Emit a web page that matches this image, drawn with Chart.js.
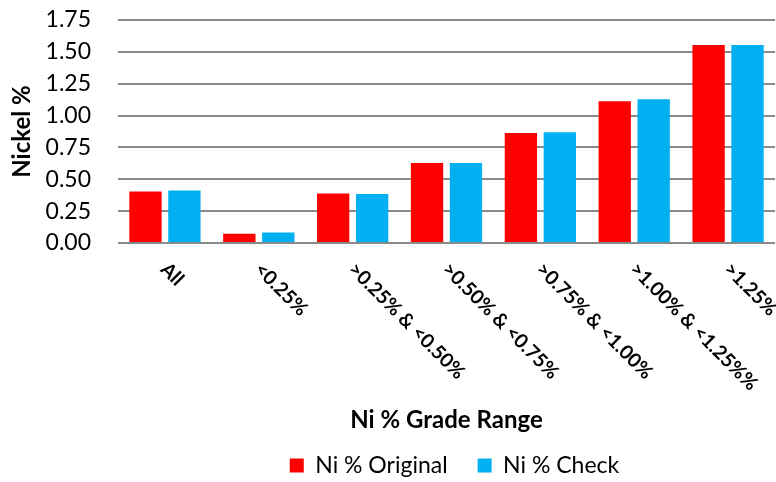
<!DOCTYPE html>
<html>
<head>
<meta charset="utf-8">
<script src="https://cdn.jsdelivr.net/npm/chart.js@4.4.1/dist/chart.umd.min.js"></script>
<style>
  html, body { margin: 0; padding: 0; background: #fff; }
  #wrap { width: 776px; height: 482px; position: relative; }
</style>
</head>
<body>
<div id="wrap"><canvas id="c" width="776" height="482"></canvas></div>
<script>
const categories = ['All', '<0.25%', '>0.25% & <0.50%', '>0.50% & <0.75%', '>0.75% & <1.00%', '>1.00% & <1.25%%', '>1.25%'];
const niOriginal = [0.404, 0.073, 0.389, 0.627, 0.864, 1.113, 1.554];
const niCheck = [0.412, 0.083, 0.384, 0.627, 0.870, 1.128, 1.554];
const yTicks = [0, 0.25, 0.5, 0.75, 1.0, 1.25, 1.5, 1.75];

const FONT = 'Lato, "Open Sans", sans-serif';

const rotatedLabels = {
  id: 'rotatedLabels',
  afterDraw(chart) {
    const x = chart.scales.x;
    const ctx = chart.ctx;
    ctx.save();
    ctx.font = 'bold 19.5px ' + FONT;
    ctx.fillStyle = '#000';
    ctx.textAlign = 'left';
    ctx.textBaseline = 'middle';
    categories.forEach((lab, i) => {
      const px = x.getPixelForValue(i);
      ctx.save();
      ctx.translate(px - 1, x.top + 23);
      ctx.rotate(Math.PI / 4);
      ctx.fillText(lab, 0, 0);
      ctx.restore();
    });
    ctx.restore();
  }
};

const legendShift = {
  id: 'legendShift',
  afterLayout(chart) {
    chart.legend.left += 8;
    chart.legend.right += 8;
  }
};

const chart = new Chart(document.getElementById('c'), {
  type: 'bar',
  data: {
    labels: categories,
    datasets: [
      { label: 'Ni % Original', data: niOriginal, backgroundColor: '#FF0000', barPercentage: 0.83, categoryPercentage: 0.83 },
      { label: 'Ni % Check', data: niCheck, backgroundColor: '#00B0F0', barPercentage: 0.83, categoryPercentage: 0.83 }
    ]
  },
  options: {
    responsive: false,
    animation: false,
    devicePixelRatio: 1,
    layout: { padding: { top: 0, right: 1, left: 0, bottom: 0 } },
    plugins: {
      legend: {
        position: 'bottom',
        fullSize: false,
        maxHeight: 58,
        labels: {
          font: { family: FONT, size: 23 },
          color: '#000',
          boxWidth: 14,
          boxHeight: 14,
          padding: 30
        }
      },
      tooltip: { enabled: false }
    },
    scales: {
      x: {
        grid: { display: false, drawTicks: false },
        border: { display: false },
        ticks: { display: false },
        title: {
          display: true,
          text: 'Ni % Grade Range',
          color: '#000',
          font: { family: FONT, size: 24, weight: 'bold' },
          padding: { top: 0, bottom: -11 }
        },
        afterFit(scale) { scale.height = 181; }
      },
      y: {
        min: 0,
        max: 1.75,
        afterBuildTicks(scale) { scale.ticks = yTicks.map(v => ({ value: v })); },
        grid: { color: '#8a8a8a', lineWidth: 2, drawTicks: true, tickLength: 27, tickColor: 'rgba(0,0,0,0)' },
        border: { display: false },
        ticks: {
          color: '#000',
          font: { family: FONT, size: 23 },
          padding: 0,
          autoSkip: false,
          callback: v => Number(v).toFixed(2)
        },
        title: {
          display: true,
          text: 'Nickel %',
          color: '#000',
          font: { family: FONT, size: 24, weight: 'bold' },
          padding: { top: 8, bottom: 4 }
        },
        afterFit(scale) { scale.width = 118; scale.paddingTop = 20; }
      }
    }
  },
  plugins: [rotatedLabels, legendShift]
});
</script>
</body>
</html>
